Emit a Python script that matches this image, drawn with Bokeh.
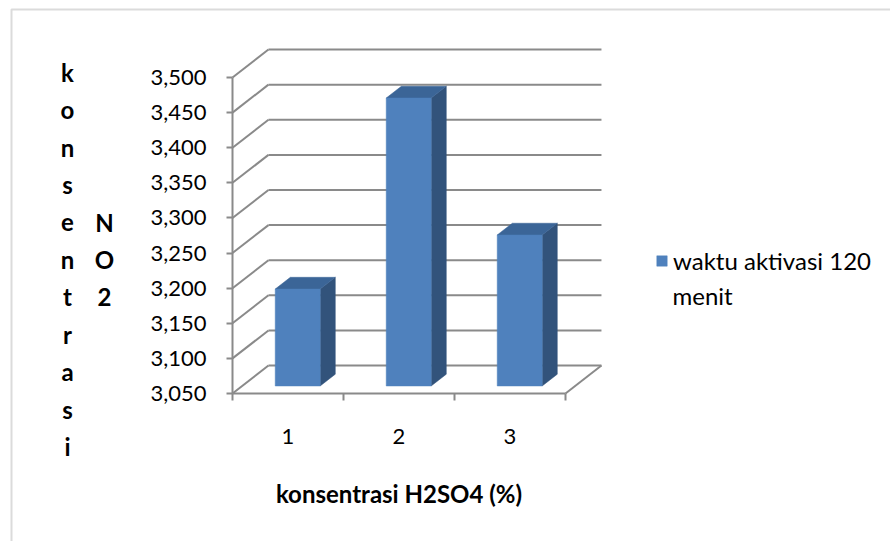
from bokeh.plotting import figure
from bokeh.models import (Range1d, LinearAxis, FixedTicker, NumeralTickFormatter,
                          Legend, LegendItem, Label, BoxAnnotation)
from bokeh.embed import file_html
from bokeh.resources import INLINE

# ---- data -------------------------------------------------------------
categories = ["1", "2", "3"]
no2_values = [3188, 3460, 3265]
series_name_lines = ["waktu aktivasi 120", "menit"]
y_ticks = [3050, 3100, 3150, 3200, 3250, 3300, 3350, 3400, 3450, 3500]
y_title_1 = "konsentrasi"
y_title_2 = "NO2"
x_title = "konsentrasi H2SO4 (%)"

# ---- layout / 3-D projection constants ---------------------------------
W, H = 890, 541
# pixel position of the front plane: category 0 .. n and value 3050 .. 3500
PLOT_L, PLOT_R_AT3, PLOT_B = 232, 565, 393
Y_PX_PER_UNIT = 316 / 450
DEPTH_DX = 0.324     # x shift (category units) for full depth
DEPTH_DY = 39.8      # y shift (value units) for full depth
BAR_FRONT = 0.27     # depth fraction of the bar front face
BAR_DEPTH = 0.42     # depth fraction taken by a bar
BAR_WIDTH = 0.405    # bar width in category units

FONT = "Lato"
GRID = "#8a8a8a"
FACE, SIDE, TOP = "#4f81bd", "#32537b", "#3b6597"

n = len(categories)
Y_MIN = y_ticks[0]
x_scale = (PLOT_R_AT3 - PLOT_L) / n


def px_x(px):
    return (px - PLOT_L) / x_scale


def px_y(py):
    return Y_MIN + (PLOT_B - py) / Y_PX_PER_UNIT


# the frame covers the whole canvas; axes are pinned inside it
p = figure(width=W, height=H,
           x_range=Range1d(px_x(0), px_x(W)), y_range=Range1d(px_y(H), px_y(0)),
           x_axis_type=None, y_axis_type=None, toolbar_location=None,
           output_backend="svg", min_border=0)
p.outline_line_color = None
p.background_fill_color = "white"
p.border_fill_color = "white"

# ---- walls and floor --------------------------------------------------
p.segment(x0=[0] * len(y_ticks), y0=y_ticks,
          x1=[DEPTH_DX] * len(y_ticks), y1=[t + DEPTH_DY for t in y_ticks],
          line_color=GRID, line_width=2)
p.segment(x0=[DEPTH_DX] * len(y_ticks), y0=[t + DEPTH_DY for t in y_ticks],
          x1=[n + DEPTH_DX] * len(y_ticks), y1=[t + DEPTH_DY for t in y_ticks],
          line_color=GRID, line_width=2)
p.segment(x0=[n], y0=[Y_MIN], x1=[n + DEPTH_DX], y1=[Y_MIN + DEPTH_DY],
          line_color=GRID, line_width=2)

# ---- 3-D columns ------------------------------------------------------
lefts = [i + 0.5 - BAR_WIDTH / 2 + BAR_FRONT * DEPTH_DX for i in range(n)]
rights = [l + BAR_WIDTH for l in lefts]
bottom = Y_MIN + BAR_FRONT * DEPTH_DY
tops = [v + BAR_FRONT * DEPTH_DY for v in no2_values]
ddx, ddy = BAR_DEPTH * DEPTH_DX, BAR_DEPTH * DEPTH_DY

side_xs = [[r, r, r + ddx, r + ddx] for r in rights]
side_ys = [[bottom, t, t + ddy, bottom + ddy] for t in tops]
top_xs = [[l, r, r + ddx, l + ddx] for l, r in zip(lefts, rights)]
top_ys = [[t, t, t + ddy, t + ddy] for t in tops]

p.patches(side_xs, side_ys, fill_color=SIDE, line_color=SIDE, line_width=0.5)
p.patches(top_xs, top_ys, fill_color=TOP, line_color=TOP, line_width=0.5)
front = p.quad(left=lefts, right=rights, bottom=[bottom] * n, top=tops,
               fill_color=FACE, line_color=FACE, line_width=0.5)

# ---- axes -------------------------------------------------------------
yaxis = LinearAxis(ticker=FixedTicker(ticks=y_ticks),
                   formatter=NumeralTickFormatter(format="0,0"),
                   bounds=(y_ticks[0], y_ticks[-1]), fixed_location=0)
yaxis.axis_line_color = GRID
yaxis.axis_line_width = 2
yaxis.major_tick_line_color = GRID
yaxis.major_tick_line_width = 2
yaxis.major_tick_out = 6
yaxis.major_tick_in = 0
yaxis.minor_tick_out = 0
yaxis.major_label_standoff = 20
yaxis.major_label_text_font = FONT
yaxis.major_label_text_font_size = "22px"
yaxis.major_label_text_color = "black"
p.add_layout(yaxis, "left")

centers = [i + 0.5 for i in range(n)]
xaxis = LinearAxis(ticker=FixedTicker(ticks=centers, minor_ticks=list(range(n + 1))),
                   major_label_overrides={c: lab for c, lab in zip(centers, categories)},
                   bounds=(0, n), fixed_location=Y_MIN)
xaxis.axis_line_color = GRID
xaxis.axis_line_width = 2
xaxis.major_tick_out = 0
xaxis.major_tick_in = 0
xaxis.minor_tick_line_color = GRID
xaxis.minor_tick_line_width = 2
xaxis.minor_tick_out = 7
xaxis.minor_tick_in = 0
xaxis.major_label_standoff = 28
xaxis.major_label_text_font = FONT
xaxis.major_label_text_font_size = "22px"
xaxis.major_label_text_color = "black"
p.add_layout(xaxis, "below")

# ---- titles -----------------------------------------------------------
TITLE_SIZE = "24px"
for i, ch in enumerate(y_title_1):
    p.add_layout(Label(x=px_x(67), y=px_y(72 + 37.4 * i), text=ch, text_align="center",
                       text_baseline="middle", text_font=FONT, text_font_style="bold",
                       text_font_size=TITLE_SIZE, text_color="black"))
for i, ch in enumerate(y_title_2):
    p.add_layout(Label(x=px_x(104), y=px_y(72 + 37.4 * (i + 4)), text=ch, text_align="center",
                       text_baseline="middle", text_font=FONT, text_font_style="bold",
                       text_font_size=TITLE_SIZE, text_color="black"))
p.add_layout(Label(x=n / 2, y=px_y(493), text=x_title, text_align="center",
                   text_baseline="middle", text_font=FONT, text_font_style="bold",
                   text_font_size=TITLE_SIZE, text_color="black"))

# ---- legend (second line of the series name wraps below the first) -----
legend = Legend(items=[LegendItem(label=series_name_lines[0], renderers=[front])],
                location=(655, H - 275))
legend.border_line_color = None
legend.background_fill_alpha = 0
legend.padding = 0
legend.margin = 0
legend.glyph_width = 13
legend.glyph_height = 13
legend.label_standoff = 5
legend.label_text_font = FONT
legend.label_text_font_size = "24px"
legend.label_text_color = "black"
p.add_layout(legend)
p.add_layout(Label(x=px_x(672), y=px_y(295), text=series_name_lines[1], text_align="left",
                   text_baseline="middle", text_font=FONT, text_font_size="24px",
                   text_color="black"))

# ---- chart border -----------------------------------------------------
p.add_layout(BoxAnnotation(left=px_x(11), top=px_y(9), right=px_x(W + 40), bottom=px_y(H + 40),
                           fill_alpha=0, line_color="#888888", line_width=2))

open("out.html", "w").write(file_html(p, INLINE))
